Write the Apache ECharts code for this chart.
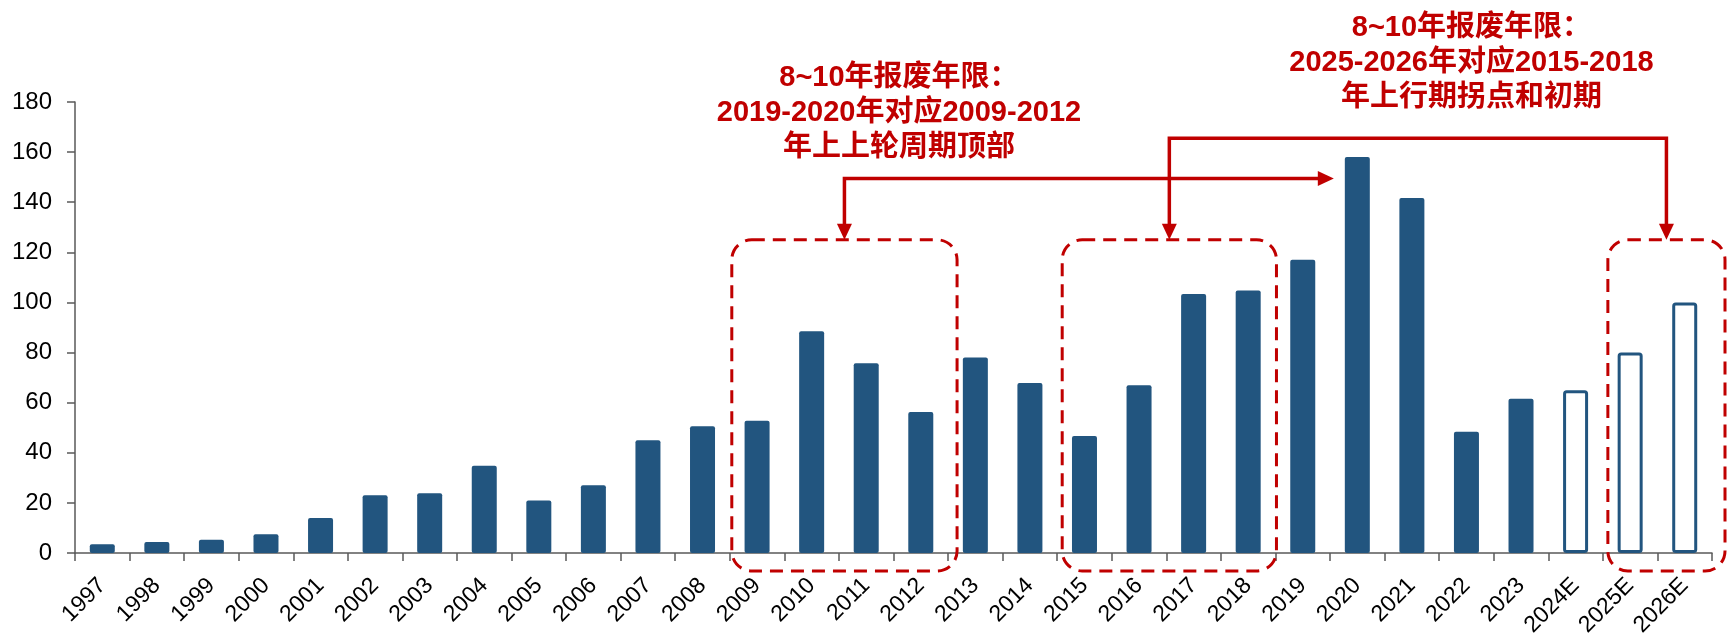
<!DOCTYPE html>
<html>
<head>
<meta charset="utf-8">
<script src="https://cdn.jsdelivr.net/npm/echarts@6/dist/echarts.min.js"></script>
<style>
  html, body { margin: 0; padding: 0; background: #fff; }
  #chart { width: 1728px; height: 643px; }
</style>
</head>
<body>
<div id="chart"></div>
<script>
// Yearly volumes; labels ending in "E" are estimates and drawn hollow
const years = ['1997', '1998', '1999', '2000', '2001', '2002', '2003', '2004', '2005', '2006',
  '2007', '2008', '2009', '2010', '2011', '2012', '2013', '2014', '2015', '2016',
  '2017', '2018', '2019', '2020', '2021', '2022', '2023', '2024E', '2025E', '2026E'];
const values = [3.5, 4.4, 5.3, 7.5, 14, 23, 23.8, 34.8, 21, 27,
  45, 50.6, 52.8, 88.5, 75.7, 56.3, 78, 67.8, 46.7, 67,
  103.4, 104.8, 117, 158, 141.7, 48.4, 61.6, 65, 80, 100];

// Value axis range
const yMin = 0;
const yMax = 180;
const yStep = 20;

// Annotation texts
const noteLeft = ['8~10年报废年限：', '2019-2020年对应2009-2012', '年上上轮周期顶部'];
const noteRight = ['8~10年报废年限：', '2025-2026年对应2015-2018', '年上行期拐点和初期'];

// Highlighted year groups (first and last year of each dashed frame)
const groupPeak = ['2009', '2012'];
const groupUp = ['2015', '2018'];
const groupNext = ['2025E', '2026E'];
const arrowTarget = '2020';

const BLUE = '#22557f';
const RED = '#c00000';
const BAR_W = 25;
const AXIS_FONT = 'Liberation Sans, Arial, sans-serif';

const chart = echarts.init(document.getElementById('chart'), null, { renderer: 'canvas' });

const barData = values.map((v, i) => {
  if (years[i].endsWith('E')) {
    return {
      value: v,
      itemStyle: { color: '#ffffff', borderColor: BLUE, borderWidth: 3, borderRadius: 2 }
    };
  }
  return v;
});

chart.setOption({
  animation: false,
  backgroundColor: '#ffffff',
  grid: { left: 75, right: 16, top: 102, bottom: 90, containLabel: false },
  xAxis: {
    type: 'category',
    data: years,
    boundaryGap: true,
    axisLine: { show: true, lineStyle: { color: '#595959', width: 1.5 } },
    axisTick: { show: true, length: 8, alignWithLabel: false, lineStyle: { color: '#595959', width: 1.5 } },
    axisLabel: {
      interval: 0, rotate: 45, margin: 29,
      color: '#000', fontSize: 23, fontFamily: AXIS_FONT
    },
    splitLine: { show: false }
  },
  yAxis: {
    type: 'value',
    min: yMin, max: yMax, interval: yStep,
    axisLine: { show: true, lineStyle: { color: '#595959', width: 1.5 } },
    axisTick: { show: true, length: 8, lineStyle: { color: '#595959', width: 1.5 } },
    axisLabel: { margin: 23, color: '#000', fontSize: 24, fontFamily: AXIS_FONT },
    splitLine: { show: false }
  },
  series: [{
    type: 'bar',
    data: barData,
    barWidth: BAR_W,
    itemStyle: { color: BLUE, borderRadius: 2 },
    z: 2
  }]
});

// ---- annotation layer, placed from the axes' own scales ----
function xc(cat) { return chart.convertToPixel({ seriesIndex: 0 }, [years.indexOf(cat), 0])[0]; }
function yp(v) { return chart.convertToPixel({ seriesIndex: 0 }, [0, v])[1]; }
const band = chart.convertToPixel({ seriesIndex: 0 }, [1, 0])[0] - chart.convertToPixel({ seriesIndex: 0 }, [0, 0])[0];

const frameTop = yp(125);
const frameBottom = yp(0) + 18;

function frame(group, padL, padR) {
  const x0 = xc(group[0]) - band / 2 + padL;
  const x1 = xc(group[1]) + band / 2 + padR;
  return { x0, x1, cx: (x0 + x1) / 2 };
}
const fPeak = frame(groupPeak, 2, 9);
const fUp = frame(groupUp, 5, 1);
const fNext = frame(groupNext, 5, 13);

const HEAD_L = 16, HEAD_W = 7.5;
function headDown(x, y) {
  return { type: 'polygon', shape: { points: [[x, y], [x - HEAD_W, y - HEAD_L], [x + HEAD_W, y - HEAD_L]] }, style: { fill: RED }, z: 10 };
}
function headRight(x, y) {
  return { type: 'polygon', shape: { points: [[x, y], [x - HEAD_L, y - HEAD_W], [x - HEAD_L, y + HEAD_W]] }, style: { fill: RED }, z: 10 };
}
function rectFrame(f) {
  return {
    type: 'rect',
    shape: { x: f.x0, y: frameTop, width: f.x1 - f.x0, height: frameBottom - frameTop, r: 20 },
    style: { fill: null, stroke: RED, lineWidth: 3, lineDash: [13, 8] },
    z: 10
  };
}
const lineStyle = { stroke: RED, lineWidth: 3.5, fill: null };

// arrow from the 2009-2012 frame towards the 2020 bar
const y1 = yp(149.5);
const xTip = xc(arrowTarget) - BAR_W / 2 - 11;
// arrow linking the 2015-2018 frame with the 2025E-2026E frame
const y2 = yp(165.5);

const noteFont = "'Liberation Sans', Arial, 'Noto Sans CJK SC', sans-serif";
function note(lines, x, y) {
  return {
    type: 'text', x: x, y: y, z: 11,
    style: {
      text: lines.join('\n'), fill: RED, fontSize: 29, fontWeight: 'bold', fontFamily: noteFont,
      align: 'center', verticalAlign: 'middle', lineHeight: 35
    }
  };
}
const gridTop = yp(yMax);

chart.setOption({
  graphic: [
    rectFrame(fPeak), rectFrame(fUp), rectFrame(fNext),
    { type: 'polyline', shape: { points: [[fPeak.cx, frameTop - HEAD_L + 1], [fPeak.cx, y1], [xTip - HEAD_L + 1, y1]] }, style: lineStyle, z: 10 },
    headDown(fPeak.cx, frameTop), headRight(xTip, y1),
    { type: 'polyline', shape: { points: [[fUp.cx, frameTop - HEAD_L + 1], [fUp.cx, y2], [fNext.cx, y2], [fNext.cx, frameTop - HEAD_L + 1]] }, style: lineStyle, z: 10 },
    headDown(fUp.cx, frameTop), headDown(fNext.cx, frameTop),
    note(noteLeft, xc('2011') + 0.6 * band, gridTop + 11),
    note(noteRight, xc('2022') + 5, gridTop - 39)
  ]
});
</script>
</body>
</html>
